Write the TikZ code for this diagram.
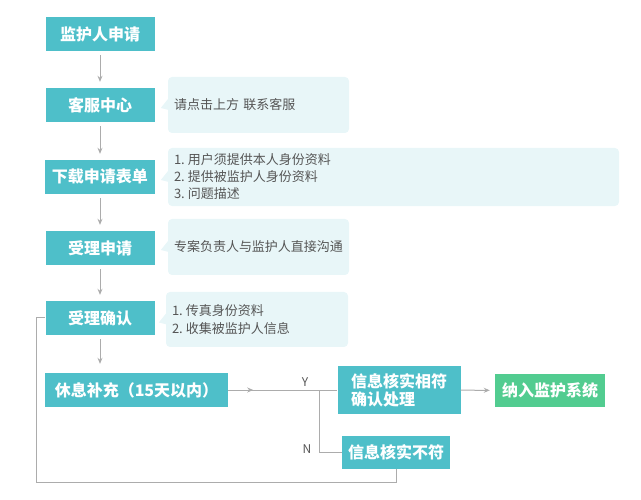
\documentclass[tikz,border=0pt]{standalone}
\usepackage{fontspec}
\newfontfamily\cjk{Noto Sans CJK SC}
\usetikzlibrary{arrows.meta,decorations.markings}
\definecolor{stepteal}{RGB}{78,191,201}
\definecolor{stepgreen}{RGB}{82,204,144}
\definecolor{notebg}{RGB}{232,246,248}
\definecolor{linegray}{RGB}{172,172,172}
\definecolor{notetext}{RGB}{85,85,85}
\newcommand{\itemno}[1]{#1.\hspace{3pt}}

\begin{document}
\begin{tikzpicture}[x=1pt,y=-1pt,
    stepbox/.style={fill=stepteal,text=white,inner sep=0pt,
        font=\cjk\bfseries\fontsize{16}{19}\selectfont,minimum height=34pt},
    notebox/.style={fill=notebg,rounded corners=4pt,text=notetext,
        font=\cjk\fontsize{13}{17}\selectfont,align=left,inner sep=6pt,
        minimum height=56pt},
    flow/.style={draw=linegray,line width=1pt},
    tip/.style={-{Stealth[length=6pt,width=5pt]},shorten >=6pt,shorten <=4pt},
    yn/.style={text=notetext,font=\cjk\fontsize{12}{14}\selectfont}]
\useasboundingbox (0,0) rectangle (641,500);
\coordinate (p1) at (100,34);
\coordinate (p2) at (100,105);
\coordinate (p3) at (100,177);
\coordinate (p4) at (100,248);
\coordinate (p5) at (100,318);
\coordinate (p6) at (136.5,390);
\coordinate (p7) at (399,390);
\coordinate (p8) at (550,390.5);
\coordinate (p9) at (396,452);
\coordinate (split) at (319,390);
\coordinate (back) at (36,482);
% steps
\node [stepbox,minimum width=109pt] (b1) at (p1) {监护人申请};
\node [stepbox,minimum width=109pt] (b2) at (p2) {客服中心};
\node [stepbox,minimum width=110pt] (b3) at (p3) {下载申请表单};
\node [stepbox,minimum width=109pt] (b4) at (p4) {受理申请};
\node [stepbox,minimum width=109pt] (b5) at (p5) {受理确认};
\node [stepbox,minimum width=183pt] (b6) at (p6) {休息补充（15天以内）};
\node [stepbox,minimum width=123pt,minimum height=47pt,align=left,
    font=\cjk\bfseries\fontsize{16}{18}\selectfont] (b7) at (p7)
    {信息核实相符\\确认处理};
\node [stepbox,fill=stepgreen,minimum width=110pt,minimum height=33pt]
    (b8) at (p8) {纳入监护系统};
\node [stepbox,minimum width=108pt,minimum height=33pt] (b9) at (p9)
    {信息核实不符};
% notes
\node [notebox,text width=169pt] (c1) at (258.5,105) {请点击上方 联系客服};
\node [notebox,text width=439pt] (c2) at (393.5,177)
    {\itemno{1}用户须提供本人身份资料\\\itemno{2}提供被监护人身份资料\\
     \itemno{3}问题描述};
\node [notebox,text width=169pt] (c3) at (258.5,247) {专案负责人与监护人直接沟通};
\node [notebox,text width=170pt,minimum height=55pt,
    font=\cjk\fontsize{13}{18.5}\selectfont] (c4) at (257,319.5)
    {\itemno{1}传真身份资料\\\itemno{2}收集被监护人信息};
\foreach \c in {c1,c2,c3,c4}
    \fill [notebg] ([xshift=1pt,yshift=7pt]\c.west)
        -- ([xshift=-7pt,yshift=-3pt]\c.west)
        -- ([xshift=1pt,yshift=-5pt]\c.west) -- cycle;
% connectors
\draw [flow,tip] (b1) -- (b2);
\draw [flow,tip] (b2) -- (b3);
\draw [flow,tip] (b3) -- (b4);
\draw [flow,tip] (b4) -- (b5);
\draw [flow,tip,shorten >=9pt] (b5.south) -- (b5.south |- b6.north);
\draw [flow,postaction={decorate},decoration={markings,
    mark=at position 25pt with {\arrow[linegray]{Stealth[length=6pt,width=5pt]}}}]
    (b6) -- (b7);
\draw [flow,tip,shorten <=0pt,shorten >=5pt] (b7) -- (b8);
\draw [flow] (split) |- (b9.west);
\draw [flow] (b9.south) |- (back) |- (b5.west);
\node [yn] (ylab) at (305,382) {Y};
\node [yn] (nlab) at (307,449) {N};
\end{tikzpicture}
\end{document}
